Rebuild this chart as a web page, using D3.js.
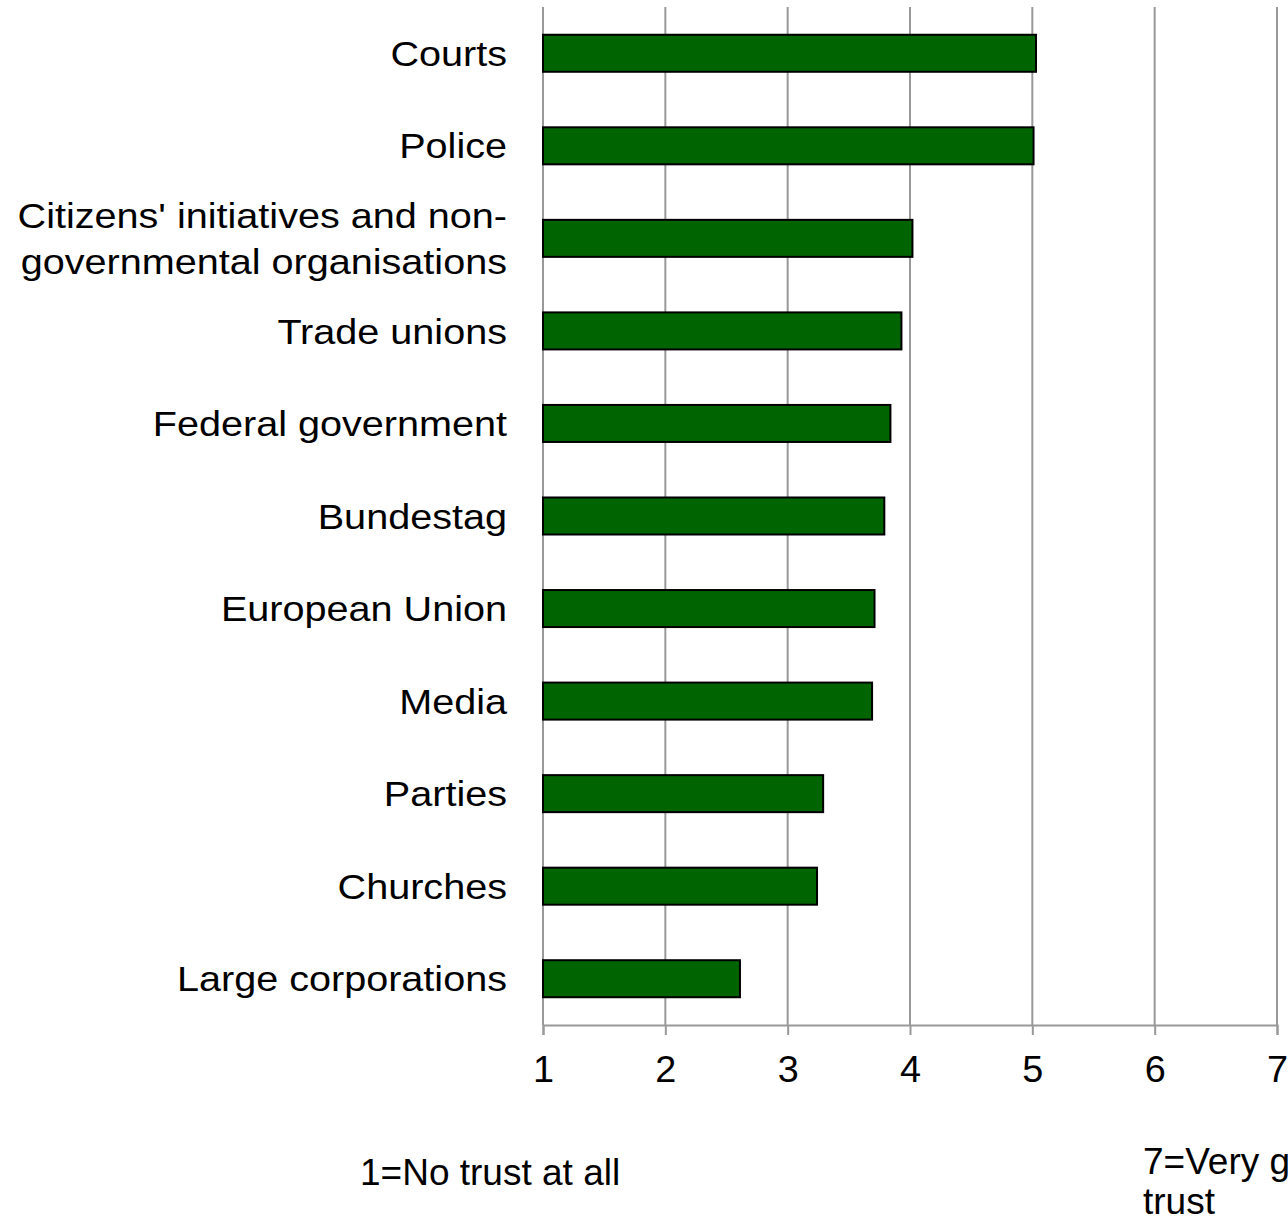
<!DOCTYPE html>
<html>
<head>
<meta charset="utf-8">
<script src="https://cdn.jsdelivr.net/npm/d3@7"></script>
<style>
  body { margin: 0; background: #fff; }
  text { font-family: "Liberation Sans", Arial, sans-serif; }
</style>
</head>
<body>
<div id="chart"></div>
<script>
var categories = ["Courts", "Police", "Citizens' initiatives and non-|governmental organisations",
    "Trade unions", "Federal government", "Bundestag", "European Union", "Media",
    "Parties", "Churches", "Large corporations"];
var values = [5.03, 5.01, 4.02, 3.93, 3.84, 3.79, 3.71, 3.69, 3.29, 3.24, 2.61];
var ticks = [1, 2, 3, 4, 5, 6, 7];
var lowLabel = ["1=No trust at all"];
var highLabel = ["7=Very great", "trust"];

var width = 1288, height = 1219;
var plotLeft = 543, plotRight = 1277, plotTop = 7, plotBottom = 1025;
var stretch = 1.1;

var svg = d3.select("#chart")
    .append("svg")
    .attr("width", width)
    .attr("height", height);

var x = d3.scaleLinear().domain([1, 7]).range([plotLeft, plotRight]);
var y = d3.scaleBand().domain(d3.range(categories.length)).range([plotTop, plotBottom]).paddingInner(0.6).paddingOuter(0.3);

// gridlines
svg.selectAll(".grid")
    .data(ticks)
    .enter()
    .append("line")
    .attr("x1", function(d) {return x(d);})
    .attr("x2", function(d) {return x(d);})
    .attr("y1", plotTop)
    .attr("y2", plotBottom)
    .attr("stroke", "#999")
    .attr("stroke-width", 2);

// bottom axis
var axis = svg.append("g")
    .attr("transform", "translate(0," + plotBottom + ")")
    .call(d3.axisBottom(x).tickValues(ticks).tickSize(10).tickPadding(21).tickFormat(d3.format("d")));
axis.select(".domain").attr("stroke", "#999").attr("stroke-width", 2);
axis.selectAll(".tick line").attr("stroke", "#999").attr("stroke-width", 2);
axis.selectAll(".tick text")
    .style("font-size", "36px")
    .style("font-family", "Liberation Sans, Arial, sans-serif")
    .attr("fill", "#000")
    .attr("transform", "scale(1.05,1)");

// bars
svg.selectAll(".bar")
    .data(values)
    .enter()
    .append("rect")
    .attr("class", "bar")
    .attr("x", x(1))
    .attr("y", function(d, i) {return y(i);})
    .attr("width", function(d) {return x(d) - x(1);})
    .attr("height", y.bandwidth())
    .attr("fill", "#006400")
    .attr("stroke", "#000")
    .attr("stroke-width", 2);

// category labels
svg.selectAll(".label")
    .data(categories)
    .enter()
    .append("g")
    .attr("class", "label")
    .attr("transform", function(d, i) {return "translate(507," + (y(i) + y.bandwidth() / 2) + ") scale(" + stretch + ",1)";})
    .append("text")
    .attr("text-anchor", "end")
    .style("font-size", "36px")
    .each(function(d) {
        var lines = d.split("|");
        var t = d3.select(this);
        lines.forEach(function(l, j) {
            t.append("tspan")
                .attr("x", 0)
                .attr("dy", j == 0 ? ((0.35 - (lines.length - 1) * 0.64) + "em") : "1.28em")
                .text(l);
        });
    });

// scale end notes
svg.append("text")
    .attr("x", 360)
    .attr("y", 1185)
    .style("font-size", "37px")
    .text(lowLabel[0]);

svg.selectAll(".high")
    .data(highLabel)
    .enter()
    .append("text")
    .attr("x", 1143)
    .attr("y", function(d, i) {return 1174 + i * 40;})
    .style("font-size", "37px")
    .text(function(d) {return d;});
</script>
</body>
</html>
